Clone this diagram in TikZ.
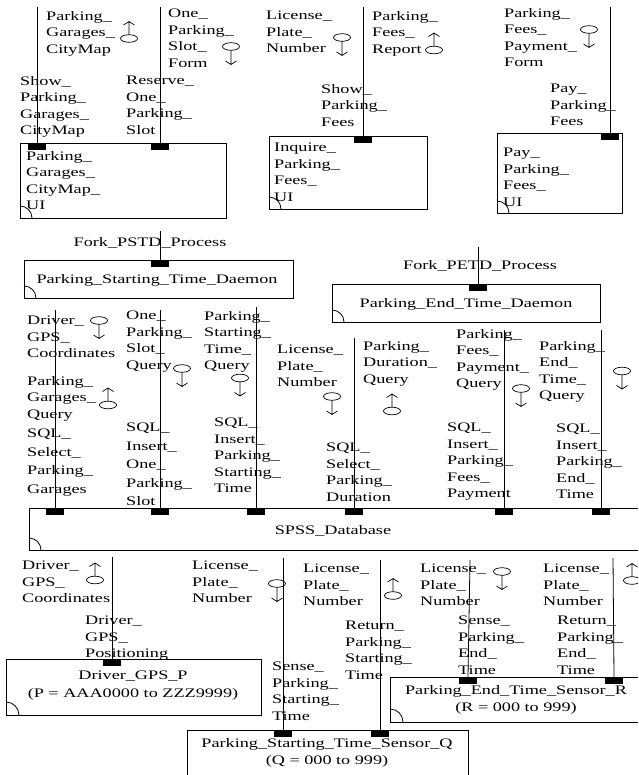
\documentclass[tikz,border=0pt]{standalone}
\usepackage{fontspec}
\setmainfont{Liberation Serif}[FakeStretch=1.4]
\newcommand\labfont{\fontsize{13}{16.5}\selectfont}
\newcommand\labfontw{\fontsize{13}{18.5}\selectfont}
\newcommand\lblat[5][]{\node[lbl,#1] (#2) at (#3,{#4-4}) {#5};}
\newcommand\cornerarc[3]{\draw[wire] (#1,{#2-#3}) .. controls ({#1+0.55*#3},{#2-#3}) and ({#1+#3},{#2-0.55*#3}) .. ({#1+#3},#2);}
\tikzset{
  wire/.style={line width=0.8pt},
  box/.style={draw, line width=0.8pt, rectangle, inner sep=0pt, anchor=north west},
  port/.style={fill=black, draw=none, rectangle, inner sep=0pt, minimum width=18pt, minimum height=7pt},
  lbl/.style={anchor=north west, inner sep=0pt, align=left, font=\labfont, execute at begin node=\strut},
  ctext/.style={inner sep=0pt, font=\labfont, align=center},
  cdown/.pic={\draw[line width=0.7pt] (0,0) ellipse [x radius=8.5pt, y radius=3.8pt];
              \draw[line width=0.7pt] (0,3.8) -- (0,18) (-5.5,14.5) -- (0,18) -- (5.5,14.5);},
  cup/.pic={\draw[line width=0.7pt] (0,0) ellipse [x radius=8.5pt, y radius=3.8pt];
            \draw[line width=0.7pt] (0,-3.8) -- (0,-17) (-5.5,-13.5) -- (0,-17) -- (5.5,-13.5);}
}
\begin{document}
\begin{tikzpicture}[x=1pt,y=-1pt]
\useasboundingbox (0,0) rectangle (638,775);
\clip (0,0) rectangle (638,775);
\fill[white] (0,0) rectangle (638,775);

% ---------- top UI boxes ----------
\node[box, minimum width=206pt, minimum height=75pt] (B1) at (20,143) {};
\node[box, minimum width=158pt, minimum height=73pt] (B2) at (269,136) {};
\node[box, minimum width=125pt, minimum height=80pt] (B3) at (497,133) {};
\cornerarc{20}{218}{12}
\cornerarc{269}{209}{12}
\cornerarc{497}{213}{12}
\lblat{tB1}{26}{155}{Parking\_\\Garages\_\\CityMap\_\\UI}
\lblat{tB2}{274}{147}{Inquire\_\\Parking\_\\Fees\_\\UI}
\lblat{tB3}{503}{152}{Pay\_\\Parking\_\\Fees\_\\UI}

\node[port] (pB1a) at (37,146.5) {};
\node[port] (pB1b) at (160,146.5) {};
\node[port] (pB2) at (363,139.5) {};
\node[port] (pB3) at (610,136.5) {};
\coordinate (tB1a) at (37,7);
\coordinate (tB1b) at (160,7);
\coordinate (tB2) at (363,7);
\coordinate (tB3) at (610,7);
\draw[wire] (tB1a) -- (pB1a.north);
\draw[wire] (tB1b) -- (pB1b.north);
\draw[wire] (tB2) -- (pB2.north);
\draw[wire] (tB3) -- (pB3.north);

\lblat{L1}{46}{15}{Parking\_\\Garages\_\\CityMap}
\lblat{L2}{20}{80}{Show\_\\Parking\_\\Garages\_\\CityMap}
\lblat{L3}{168}{13}{One\_\\Parking\_\\Slot\_\\Form}
\lblat{L4}{126}{80}{Reserve\_\\One\_\\Parking\_\\Slot}
\lblat{L5}{266}{15}{License\_\\Plate\_\\Number}
\lblat{L6}{372}{15}{Parking\_\\Fees\_\\Report}
\lblat{L7}{321}{88}{Show\_\\Parking\_\\Fees}
\lblat{L8}{504}{12}{Parking\_\\Fees\_\\Payment\_\\Form}
\lblat{L9}{550}{88}{Pay\_\\Parking\_\\Fees}
\pic (s1) at (129,38.5) {cup};
\pic (s2) at (231,46.5) {cdown};
\pic (s3) at (342,37.5) {cdown};
\pic (s4) at (434,50) {cup};
\pic (s5) at (589,29.5) {cdown};

% ---------- daemons ----------
\node[box, minimum width=269pt, minimum height=38pt] (D1) at (24,260) {};
\node[box, minimum width=268pt, minimum height=38pt] (D2) at (332,284) {};
\cornerarc{24}{298}{12}
\cornerarc{332}{322}{12}
\node[ctext] (tD1) at (157,280) {Parking\_Starting\_Time\_Daemon};
\node[ctext] (tD2) at (466,304) {Parking\_End\_Time\_Daemon};
\node[port] (pD1) at (160,263.5) {};
\node[port] (pD2) at (478,287.5) {};
\coordinate (tD1c) at (160,231);
\coordinate (tD2c) at (478,247);
\draw[wire] (tD1c) -- (pD1.north);
\draw[wire] (tD2c) -- (pD2.north);
\node[ctext] (fk1) at (150,243) {Fork\_PSTD\_Process};
\node[ctext] (fk2) at (480,266) {Fork\_PETD\_Process};

% ---------- database ----------
\node[box, minimum width=640pt, minimum height=42pt] (DB) at (29,508) {};
\cornerarc{29}{550}{12}
\node[ctext] (tDB) at (333,531) {SPSS\_Database};
\node[port] (pDB1) at (55,511.5) {};
\node[port] (pDB2) at (160,511.5) {};
\node[port] (pDB3) at (256,511.5) {};
\node[port] (pDB4) at (354,511.5) {};
\node[port] (pDB5) at (504,511.5) {};
\node[port] (pDB6) at (601,511.5) {};
\coordinate (tDB1) at (55,310);
\coordinate (tDB2) at (160,310);
\coordinate (tDB3) at (256,307);
\coordinate (tDB4) at (354,338);
\coordinate (tDB5) at (504,330);
\coordinate (tDB6) at (601,330);
\draw[wire] (tDB1) -- (pDB1.north);
\draw[wire] (tDB2) -- (pDB2.north);
\draw[wire] (tDB3) -- (pDB3.north);
\draw[wire] (tDB4) -- (pDB4.north);
\draw[wire] (tDB5) -- (pDB5.north);
\draw[wire] (tDB6) -- (pDB6.north);

\lblat{M1}{27}{320}{Driver\_\\GPS\_\\Coordinates}
\lblat{M2}{27}{380}{Parking\_\\Garages\_\\Query}
\lblat[font=\labfontw]{M3}{27}{433}{SQL\_\\Select\_\\Parking\_\\Garages}
\lblat{M4}{126}{315}{One\_\\Parking\_\\Slot\_\\Query}
\lblat[font=\labfontw]{M5}{126}{427}{SQL\_\\Insert\_\\One\_\\Parking\_\\Slot}
\lblat{M6}{204}{315}{Parking\_\\Starting\_\\Time\_\\Query}
\lblat{M7}{214}{422}{SQL\_\\Insert\_\\Parking\_\\Starting\_\\Time}
\lblat{M8}{277}{349}{License\_\\Plate\_\\Number}
\lblat{M9}{363}{345}{Parking\_\\Duration\_\\Query}
\lblat{M10}{326}{447}{SQL\_\\Select\_\\Parking\_\\Duration}
\lblat{M11}{456}{333}{Parking\_\\Fees\_\\Payment\_\\Query}
\lblat{M12}{447}{427}{SQL\_\\Insert\_\\Parking\_\\Fees\_\\Payment}
\lblat{M13}{539}{345}{Parking\_\\End\_\\Time\_\\Query}
\lblat{M14}{556}{428}{SQL\_\\Insert\_\\Parking\_\\End\_\\Time}
\pic (s6) at (99,320.5) {cdown};
\pic (s7) at (108,405) {cup};
\pic (s8) at (182,368.5) {cdown};
\pic (s9) at (240,378) {cdown};
\pic (s10) at (332,396.5) {cdown};
\pic (s11) at (392,411) {cup};
\pic (s12) at (521,388.5) {cdown};
\pic (s13) at (622,371) {cdown};

% ---------- bottom sensors ----------
\node[box, minimum width=255pt, minimum height=56pt] (GP) at (6,659) {};
\node[box, minimum width=281pt, minimum height=70pt] (SQ) at (187,730) {};
\node[box, minimum width=270pt, minimum height=45pt] (SR) at (390,677) {};
\cornerarc{6}{715}{13}
\cornerarc{187}{800}{13}
\cornerarc{390}{722}{13}
\node[ctext, font=\fontsize{13}{18}\selectfont] (tGP) at (133,686) {Driver\_GPS\_P\\(P = AAA0000 to ZZZ9999)};
\node[ctext, font=\fontsize{13}{17}\selectfont] (tSR) at (516,700) {Parking\_End\_Time\_Sensor\_R\\(R = 000 to 999)};
\node[ctext, font=\fontsize{13}{17}\selectfont] (tSQ) at (327,753) {Parking\_Starting\_Time\_Sensor\_Q\\(Q = 000 to 999)};

\node[port] (pGP) at (112,662.5) {};
\node[port] (pSQ1) at (283,733.5) {};
\node[port] (pSQ2) at (380,733.5) {};
\node[port] (pSR1) at (468,680.5) {};
\node[port] (pSR2) at (614,680.5) {};
\coordinate (tGP) at (112,557);
\coordinate (tSQ1) at (283,558);
\coordinate (tSQ2) at (380,560);
\coordinate (tSR1) at (470,560);
\coordinate (tSR2) at (613,558);
\draw[wire] (tGP) -- (pGP.north);
\draw[wire] (tSQ1) -- (pSQ1.north);
\draw[wire] (tSQ2) -- (pSQ2.north);
\draw[wire] (tSR1) -- (pSR1.north);
\draw[wire] (tSR2) -- (pSR2.north);

\lblat{N1}{22}{565}{Driver\_\\GPS\_\\Coordinates}
\lblat{N2}{85}{620}{Driver\_\\GPS\_\\Positioning}
\lblat{N3}{192}{565}{License\_\\Plate\_\\Number}
\lblat{N4}{272}{666}{Sense\_\\Parking\_\\Starting\_\\Time}
\lblat{N5}{303}{568}{License\_\\Plate\_\\Number}
\lblat{N6}{345}{625}{Return\_\\Parking\_\\Starting\_\\Time}
\lblat{N7}{420}{568}{License\_\\Plate\_\\Number}
\lblat{N8}{458}{620}{Sense\_\\Parking\_\\End\_\\Time}
\lblat{N9}{543}{568}{License\_\\Plate\_\\Number}
\lblat{N10}{557}{620}{Return\_\\Parking\_\\End\_\\Time}
\pic (s14) at (95,580) {cup};
\pic (s15) at (277,583.5) {cdown};
\pic (s16) at (393,595.5) {cup};
\pic (s17) at (502,571.5) {cdown};
\pic (s18) at (632,580.5) {cup};
\end{tikzpicture}
\end{document}
